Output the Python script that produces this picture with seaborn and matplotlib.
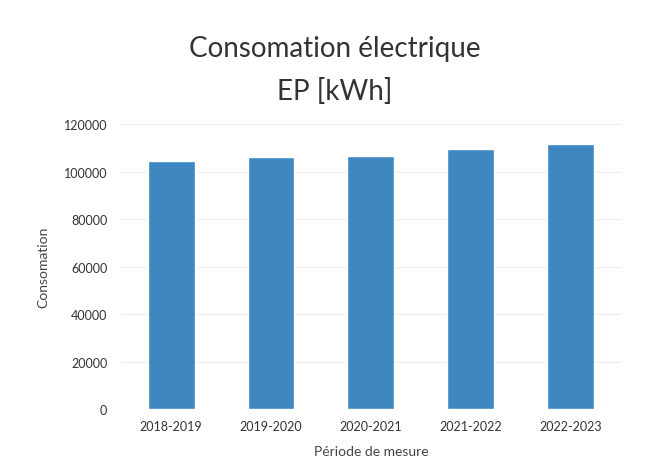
import matplotlib
matplotlib.use("Agg")
import matplotlib.pyplot as plt
import seaborn as sns
import pandas as pd

# Values
periodes = ["2018-2019", "2019-2020", "2020-2021", "2021-2022", "2022-2023"]
consommation = [104300, 106200, 106600, 109600, 111700]
yticks = [0, 20000, 40000, 60000, 80000, 100000, 120000]

df = pd.DataFrame({"Période de mesure": periodes, "Consomation": consommation})

sns.set_theme(style="white")
plt.rcParams["font.family"] = ["Lato", "DejaVu Sans"]

fig = plt.figure(figsize=(6.69, 4.77), dpi=100)
ax = fig.add_axes([0.181, 0.140, 0.747, 0.598])

sns.barplot(data=df, x="Période de mesure", y="Consomation", color="#3f87c1",
            saturation=1, width=0.47, ax=ax)

ax.set_ylim(0, 120000)
ax.set_xlim(-0.5, 4.5)
ax.set_yticks(yticks)
ax.set_yticklabels([str(v) for v in yticks])
ax.yaxis.grid(True, color="#ededed", linewidth=0.8)
ax.set_axisbelow(True)
for s in ax.spines.values():
    s.set_visible(False)
ax.tick_params(axis="both", length=0, labelsize=9, colors="#333333")
ax.tick_params(axis="y", pad=10)
ax.tick_params(axis="x", pad=8)

ax.set_xlabel("Période de mesure", fontsize=10, color="#444444", labelpad=9)
ax.set_ylabel("Consomation", fontsize=10, color="#444444", labelpad=10)

fig.text(0.5, 0.852, "Consomation électrique\nEP [kWh]", fontsize=20,
         color="#333333", ha="center", va="center", linespacing=1.75)

fig.savefig("out.png", dpi=100)
